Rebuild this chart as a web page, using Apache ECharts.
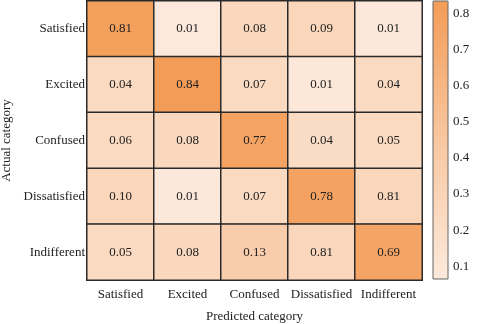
<!DOCTYPE html>
<html><head><meta charset="utf-8">
<script src="https://cdn.jsdelivr.net/npm/echarts@6/dist/echarts.min.js"></script>
<style>html,body{margin:0;padding:0;background:#fff}#c{width:480px;height:324px}</style>
</head><body><div id="c"></div>
<script>
var categories = ['Satisfied', 'Excited', 'Confused', 'Dissatisfied', 'Indifferent'];
// printed values (rows = actual, cols = predicted)
var labelRow0 = [0.81, 0.01, 0.08, 0.09, 0.01];
var labelRow1 = [0.04, 0.84, 0.07, 0.01, 0.04];
var labelRow2 = [0.06, 0.08, 0.77, 0.04, 0.05];
var labelRow3 = [0.10, 0.01, 0.07, 0.78, 0.81];
var labelRow4 = [0.05, 0.08, 0.13, 0.81, 0.69];
// shade values
var colorRow0 = [0.80, 0.07, 0.26, 0.28, 0.08];
var colorRow1 = [0.24, 0.834, 0.24, 0.09, 0.24];
var colorRow2 = [0.24, 0.26, 0.77, 0.22, 0.24];
var colorRow3 = [0.28, 0.08, 0.24, 0.78, 0.28];
var colorRow4 = [0.24, 0.26, 0.38, 0.27, 0.76];
var colorbarTicks = [0.1, 0.2, 0.3, 0.4, 0.5, 0.6, 0.7, 0.8];
var colorMin = 0.065, colorMax = 0.834;

var labelRows = [labelRow0, labelRow1, labelRow2, labelRow3, labelRow4];
var colorRows = [colorRow0, colorRow1, colorRow2, colorRow3, colorRow4];
var data = [];
for (var r = 0; r < 5; r++) for (var c = 0; c < 5; c++) data.push([c, r, colorRows[r][c], labelRows[r][c]]);

var font = 'Liberation Serif';
var chart = echarts.init(document.getElementById('c'));
chart.setOption({
  animation: false,
  textStyle: {fontFamily: font},
  grid: [
    {left: 87, top: 1, width: 335, height: 279, containLabel: false, outerBoundsMode: 'none'},
    {left: 433, top: 1, width: 15, height: 278, show: true, borderColor: '#666', borderWidth: 1, backgroundColor: 'transparent', z: 10, outerBoundsMode: 'none'}
  ],
  xAxis: [
    {type: 'category', data: categories, gridIndex: 0, axisLine: {show: false}, axisTick: {show: false}, splitLine: {show: false},
     axisLabel: {fontFamily: font, fontSize: 13, color: '#222', margin: 8, interval: 0},
     name: 'Predicted category', nameLocation: 'middle', nameGap: 30, nameTextStyle: {fontFamily: font, fontSize: 13, color: '#222'}},
    {type: 'value', gridIndex: 1, min: 0, max: 1, show: false}
  ],
  yAxis: [
    {type: 'category', data: categories, inverse: true, gridIndex: 0, axisLine: {show: false}, axisTick: {show: false}, splitLine: {show: false},
     axisLabel: {fontFamily: font, fontSize: 13, color: '#222', margin: 2},
     name: 'Actual category', nameLocation: 'middle', nameGap: 71, nameRotate: 90, nameTextStyle: {fontFamily: font, fontSize: 13, color: '#222'}},
    {type: 'value', gridIndex: 1, min: colorMin, max: colorMax, position: 'right', axisLine: {show: false}, axisTick: {show: false}, splitLine: {show: false},
     axisLabel: {fontFamily: font, fontSize: 13, color: '#222', margin: 5, customValues: colorbarTicks, formatter: function (v) { return v.toFixed(1); }}}
  ],
  visualMap: {
    type: 'continuous', min: colorMin, max: colorMax, calculable: false, show: true, dimension: 2,
    orient: 'vertical', left: 433, top: 1, itemWidth: 15, itemHeight: 278, padding: 0,
    text: null, seriesIndex: 0,
    inRange: {color: ['#fce9dc', '#f8c7a0', '#f39c57']}
  },
  series: [{
    type: 'heatmap', xAxisIndex: 0, yAxisIndex: 0, data: data,
    itemStyle: {borderColor: '#2a2a2a', borderWidth: 1.5},
    label: {show: true, fontFamily: font, fontSize: 13, color: '#222', formatter: function (p) { return p.data[3].toFixed(2); }},
    emphasis: {disabled: true}
  }]
});
</script></body></html>
